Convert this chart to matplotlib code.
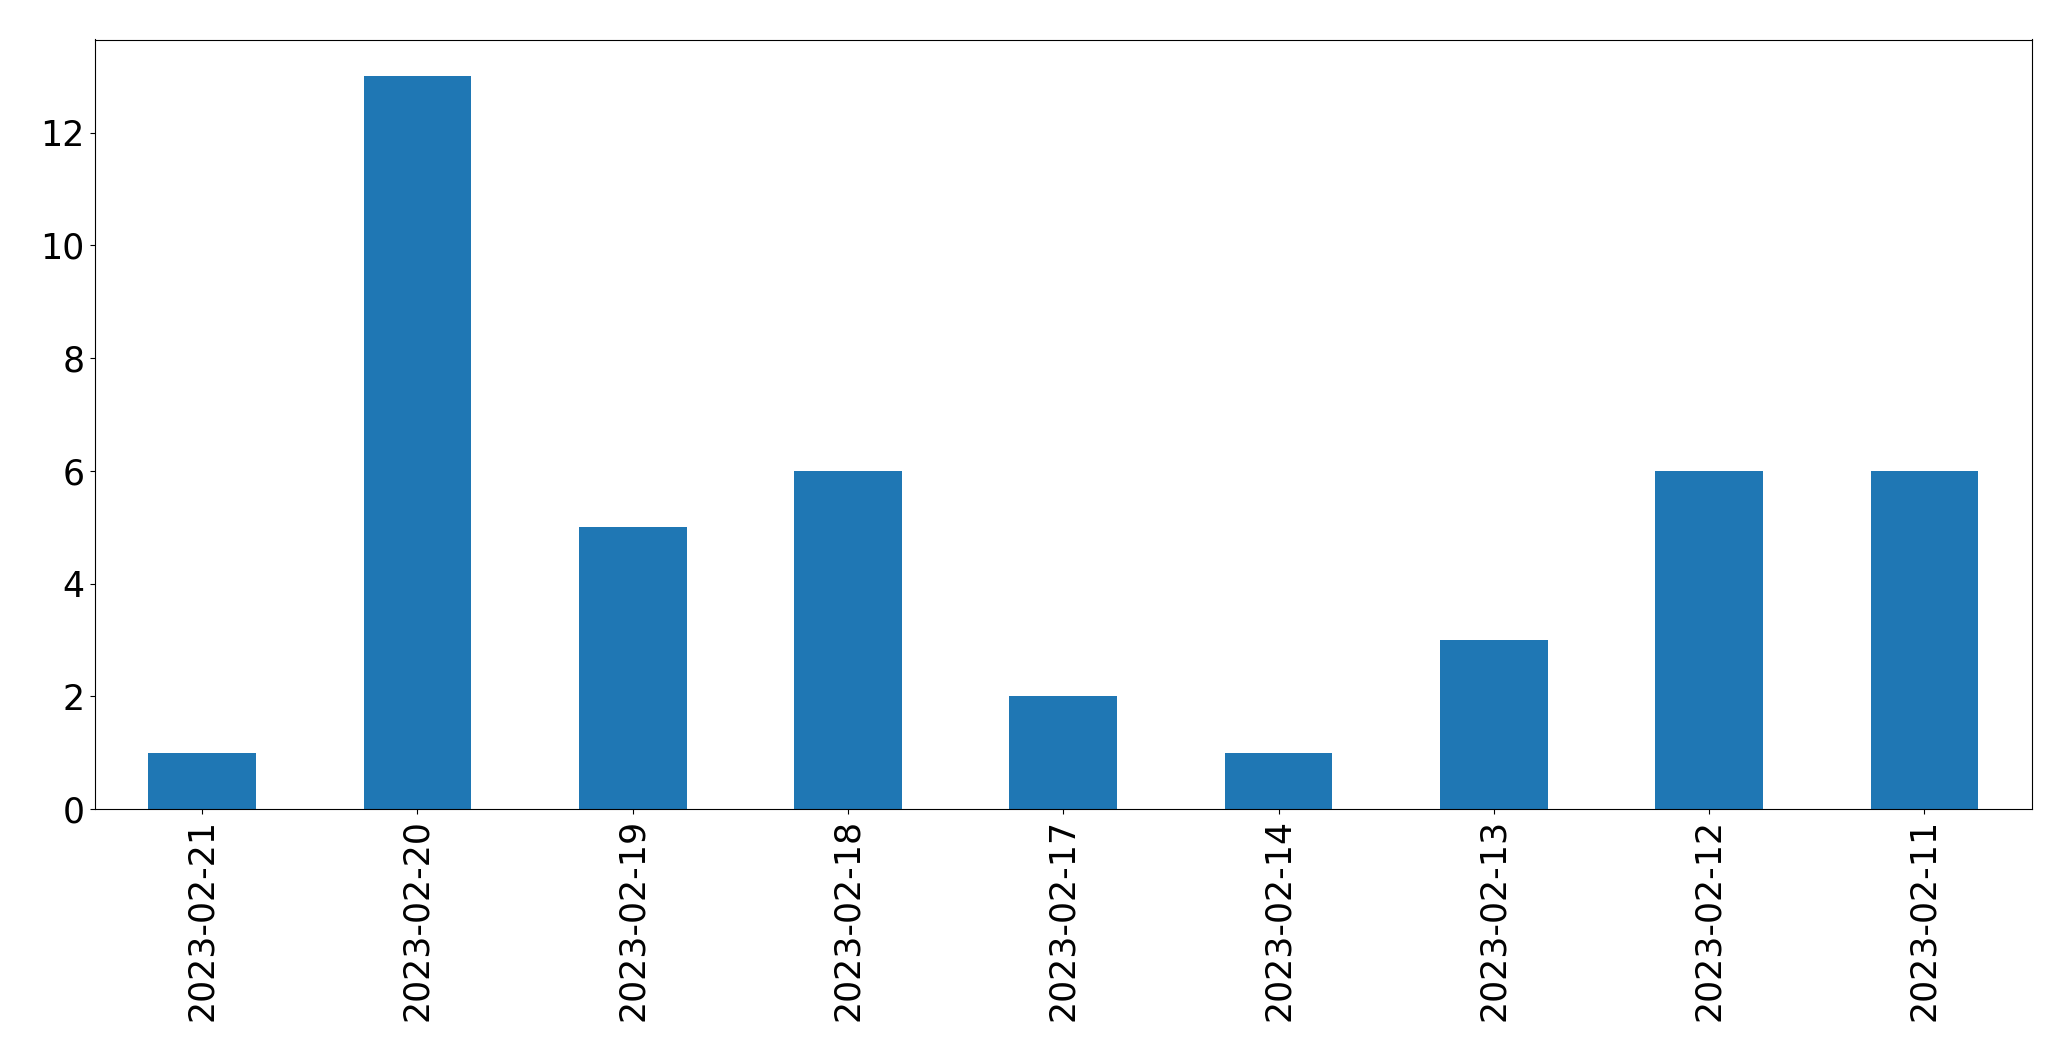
import matplotlib
matplotlib.use("Agg")
import matplotlib.pyplot as plt
import pandas as pd

# Daily counts, most recent first
dates = ["2023-02-21", "2023-02-20", "2023-02-19", "2023-02-18", "2023-02-17",
         "2023-02-14", "2023-02-13", "2023-02-12", "2023-02-11"]
counts = [1, 13, 5, 6, 2, 1, 3, 6, 6]

s = pd.Series(counts, index=dates)

fig = plt.figure(figsize=(20.71, 10.61), dpi=100)
ax = fig.add_axes([94.5 / 2071, 1 - 809 / 1061, (2032 - 94.5) / 2071, (809 - 39.5) / 1061])
s.plot.bar(ax=ax, color="#1f77b4", width=0.5)
ax.tick_params(axis="both", labelsize=25)

fig.savefig("out.png", dpi=100)
